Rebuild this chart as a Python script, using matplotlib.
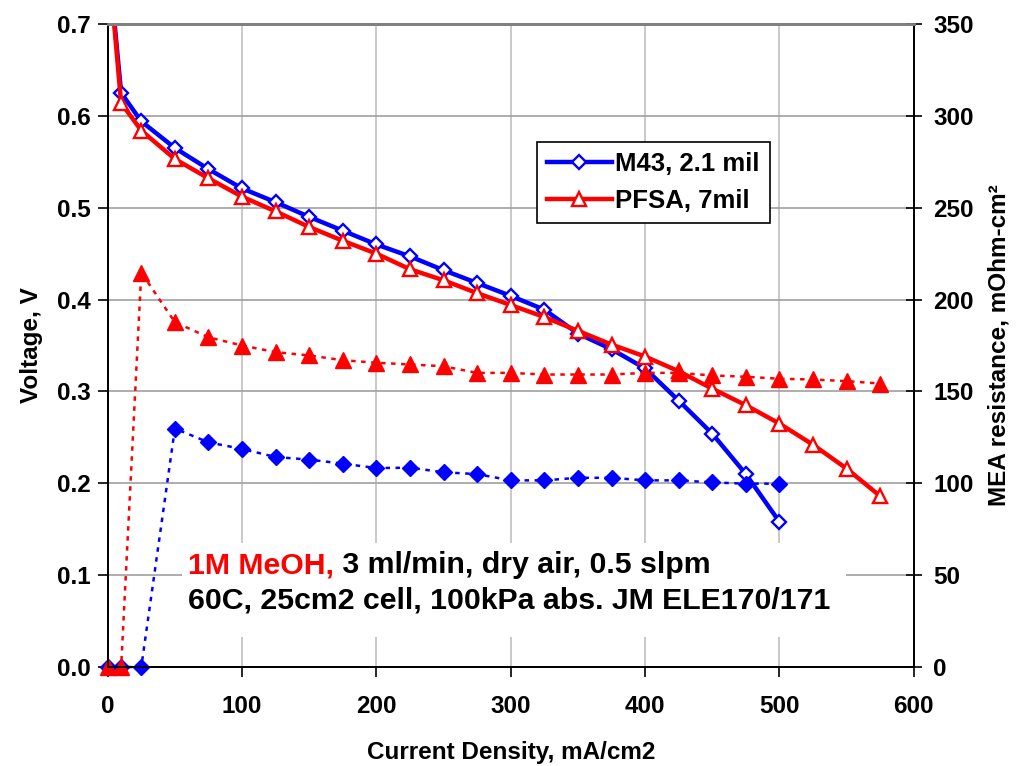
import matplotlib
matplotlib.use('Agg')
import matplotlib.pyplot as plt
from matplotlib.patches import Rectangle
from matplotlib.ticker import MultipleLocator, FormatStrFormatter

plt.rcParams['font.family'] = ['Liberation Sans', 'DejaVu Sans']
plt.rcParams['font.weight'] = 'bold'

# current density, mA/cm2
m43_current = [0, 10, 25, 50, 75, 100, 125, 150, 175, 200, 225, 250,
               275, 300, 325, 350, 375, 400, 425, 450, 475, 500]
pfsa_current = [0, 10, 25, 50, 75, 100, 125, 150, 175, 200, 225, 250,
                275, 300, 325, 350, 375, 400, 425, 450, 475, 500, 525,
                550, 575]

# cell voltage, V
m43_voltage = [0.78, 0.625, 0.594, 0.565, 0.542, 0.521, 0.506, 0.490,
               0.475, 0.460, 0.447, 0.432, 0.418, 0.404, 0.389, 0.363,
               0.346, 0.325, 0.290, 0.254, 0.210, 0.158]
pfsa_voltage = [0.78, 0.614, 0.584, 0.553, 0.532, 0.512, 0.496, 0.479,
                0.464, 0.450, 0.433, 0.421, 0.407, 0.394, 0.381, 0.366,
                0.351, 0.338, 0.322, 0.303, 0.285, 0.265, 0.242, 0.216,
                0.186]

# MEA resistance, mOhm-cm2
m43_resistance = [0, 0, 0, 129.8, 122.3, 118.7, 114.3, 112.9, 110.7,
                  108.3, 108.5, 106.0, 105.0, 101.6, 101.6, 103.0, 103.0,
                  101.6, 101.6, 100.5, 99.8, 99.8]
pfsa_resistance = [0, 0, 214.7, 187.7, 179.5, 175.0, 171.4, 169.6, 167.0,
                   165.6, 164.7, 163.7, 160.1, 160.1, 159.2, 159.2, 159.2,
                   160.1, 160.1, 158.7, 158.0, 156.9, 156.5, 155.6, 154.3]

series_labels = ['M43, 2.1 mil', 'PFSA, 7mil']
note_red = '1M MeOH,'
note_rest = ' 3 ml/min, dry air, 0.5 slpm'
note_line2 = '60C, 25cm2 cell, 100kPa abs. JM ELE170/171'

BLUE = '#0000ff'
RED = '#ff0000'

fig = plt.figure(figsize=(10.16, 7.66), dpi=100)
ax = fig.add_axes([0.106, 0.1292, 0.7934, 0.8395])
ax2 = ax.twinx()

# polarization curves (left axis)
l1, = ax.plot(m43_current, m43_voltage, '-', color=BLUE, lw=3.2,
              marker='D', ms=6.8, mfc='white', mec=BLUE, mew=1.7,
              label=series_labels[0])
l2, = ax.plot(pfsa_current, pfsa_voltage, '-', color=RED, lw=3.2,
              marker='^', ms=10, mfc='white', mec=RED, mew=1.7,
              label=series_labels[1])

# resistance (right axis)
ax2.plot(m43_current, m43_resistance, color=BLUE, lw=1.8,
         linestyle=(0, (1.8, 2.2)), marker='D', ms=8.5, mfc=BLUE, mec=BLUE,
         clip_on=False)
ax2.plot(pfsa_current, pfsa_resistance, color=RED, lw=1.8,
         linestyle=(0, (1.8, 2.2)), marker='^', ms=11.5, mfc=RED, mec=RED,
         clip_on=False)

ax.set_xlim(0, 600)
ax.set_ylim(0, 0.7)
ax2.set_ylim(0, 350)
ax.xaxis.set_major_locator(MultipleLocator(100))
ax.yaxis.set_major_locator(MultipleLocator(0.1))
ax.yaxis.set_major_formatter(FormatStrFormatter('%.1f'))
ax2.yaxis.set_major_locator(MultipleLocator(50))

ax.set_axisbelow(True)
ax.grid(True, axis='y', color='#a0a0a0', lw=1.2)
ax.grid(True, axis='x', color='#c0c0c0', lw=1.2)

for a in (ax, ax2):
    for side in ('left', 'right', 'bottom'):
        a.spines[side].set_color('black')
        a.spines[side].set_linewidth(1.3)
    a.spines['top'].set_color('#808080')
    a.spines['top'].set_linewidth(2)

ax.tick_params(axis='y', direction='out', length=7, width=1.2,
               labelsize=17.5, pad=5)
ax.tick_params(axis='x', direction='out', length=7, width=1.2,
               labelsize=17.5, pad=13)
ax2.tick_params(axis='y', direction='inout', length=12, width=1.2,
                labelsize=17.5, pad=8)

ax.set_xlabel('Current Density, mA/cm2', fontsize=17.5, fontweight='bold',
              labelpad=17)
ax.set_ylabel('Voltage, V', fontsize=17.5, fontweight='bold', labelpad=10)
ax2.set_ylabel('MEA resistance, mOhm-cm²', fontsize=17.5,
               fontweight='bold', labelpad=10)

# white box behind the test conditions
ax.add_patch(Rectangle((0.092, 0.047), 0.824, 0.146, transform=ax.transAxes,
                       facecolor='white', edgecolor='none', zorder=1.5))
t1 = ax.text(0.0996, 0.1462, note_red, transform=ax.transAxes,
             color=RED, fontsize=21.8, fontweight='bold', va='baseline',
             zorder=3)
ax.annotate(note_rest, xy=(1, 0), xycoords=t1, va='bottom',
            fontsize=21.8, fontweight='bold', color='black', zorder=3)
ax.text(0.0996, 0.0918, note_line2, transform=ax.transAxes,
        color='black', fontsize=21.8, fontweight='bold', va='baseline',
        zorder=3)

leg = ax2.legend(handles=[l1, l2], loc='upper left',
                 bbox_to_anchor=(0.5326, 0.8165), borderaxespad=0,
                 fancybox=False, framealpha=1, edgecolor='black',
                 prop={'size': 18.5, 'weight': 'bold'}, handlelength=2.5,
                 handletextpad=0.15, labelspacing=0.5, borderpad=0.4)
leg.get_frame().set_linewidth(1.2)

fig.savefig('out.png', dpi=100)
